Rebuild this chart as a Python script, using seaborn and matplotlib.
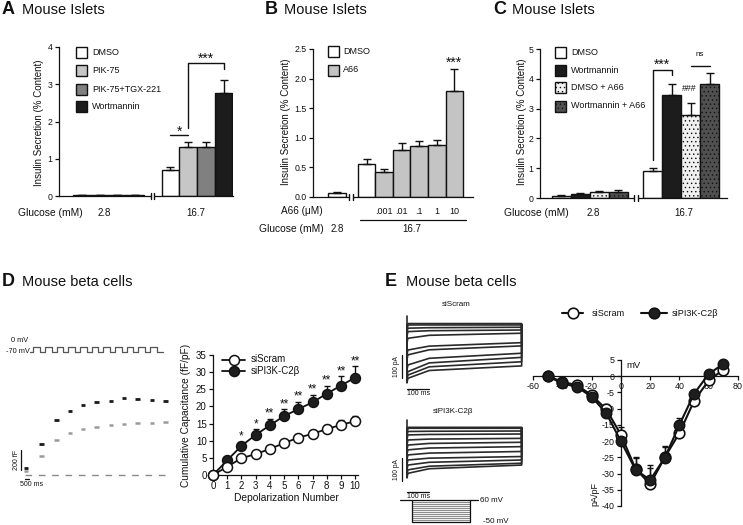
import numpy as np
import pandas as pd
import matplotlib
matplotlib.use("Agg")
import matplotlib.pyplot as plt
from matplotlib.patches import Rectangle
from matplotlib.lines import Line2D
import seaborn as sns

# ===================== data =====================
glucose_mM = ["2.8", "16.7"]

# A
a_conditions = ["DMSO", "PIK-75", "PIK-75+TGX-221", "Wortmannin"]
a_low_mean = [0.02, 0.02, 0.02, 0.03]
a_low_sem = [0.005, 0.005, 0.005, 0.008]
a_high_mean = [0.70, 1.31, 1.31, 2.77]
a_high_sem = [0.09, 0.15, 0.15, 0.34]

# B
b_conditions = ["DMSO", "A66"]
b_doses = [".001", ".01", ".1", "1", "10"]
b_dmso_mean = [0.06, 0.55]          # 2.8 mM, 16.7 mM
b_dmso_sem = [0.02, 0.10]
b_a66_mean = [0.42, 0.80, 0.86, 0.88, 1.79]
b_a66_sem = [0.05, 0.11, 0.08, 0.08, 0.37]

# C
c_conditions = ["DMSO", "Wortmannin", "DMSO + A66", "Wortmannin + A66"]
c_low_mean = [0.07, 0.14, 0.19, 0.20]
c_low_sem = [0.02, 0.02, 0.05, 0.06]
c_high_mean = [0.89, 3.47, 2.77, 3.81]
c_high_sem = [0.13, 0.37, 0.43, 0.40]

# D  capacitance
depol_number = [0, 1, 2, 3, 4, 5, 6, 7, 8, 9, 10]
scram_cap = [0, 2.4, 4.9, 6.1, 7.6, 9.3, 10.9, 12.0, 13.4, 14.6, 15.7]
scram_err = [0, 0.5, 0.6, 0.7, 0.8, 1.0, 1.1, 1.2, 1.3, 1.4, 1.5]
pi_cap = [0, 4.3, 8.5, 11.7, 14.5, 17.2, 19.2, 21.2, 23.7, 26.1, 28.4]
pi_err = [0, 0.8, 1.2, 1.6, 1.9, 2.0, 2.1, 2.2, 2.4, 2.7, 3.3]
pi_sig = ["", "", "*", "*", "**", "**", "**", "**", "**", "**", "**"]
groups = ["siScram", "siPI3K-C2\u03b2"]

# D  example capacitance trace (ms, fF)
cap_trace_t = [1400, 3300, 5200, 6900, 8500, 10200, 12000, 13600, 15300, 17100, 18800]
cap_trace_pi = [70, 310, 550, 640, 700, 730, 745, 770, 760, 750, 740]
cap_trace_scram = [40, 195, 350, 425, 460, 480, 500, 510, 520, 520, 530]
pulse_onsets_ms = [2290, 3750, 5210, 6670, 8125, 9590, 11040, 12500, 13960, 15420, 16875]
pulse_width_ms = 830

# E  example current traces (pA at 4, 100, 516 ms)
trace_t = [4, 100, 516]
scram_i_start = [6, 0, -14, -29, -58, -109, -130, -174, -203, -218, -232]
scram_i_mid = [6, 0, -12, -25, -45, -92, -108, -145, -165, -182, -198]
scram_i_end = [6, 0, -10, -22, -36, -77, -91, -123, -141, -160, -178]
pi_i_start = [4, 0, -14, -29, -51, -73, -94, -116, -138, -160, -181, -196]
pi_i_mid = [4, 0, -13, -27, -47, -66, -86, -108, -130, -148, -165, -176]
pi_i_end = [4, 0, -12, -25, -44, -61, -80, -101, -123, -138, -152, -160]
step_levels_mV = [-50, -40, -30, -20, -10, 0, 10, 20, 30, 40, 50, 60]

# E  I-V
iv_mV = [-50, -40, -30, -20, -10, 0, 10, 20, 30, 40, 50, 60, 70]
iv_scram = [0, -1.7, -2.8, -5.8, -10.2, -18.0, -28.5, -33.3, -25.0, -17.5, -7.6, -1.3, 2.0]
iv_scram_err = [0, 1.0, 0.9, 0.8, 1.6, 2.5, 3.5, 5.0, 3.6, 2.5, 1.0, 0.5, 0.5]
iv_pi = [0, -2.2, -3.3, -6.3, -11.4, -20.0, -28.8, -32.0, -25.1, -15.0, -5.4, 0.7, 3.8]
iv_pi_err = [0, 1.2, 1.0, 0.8, 1.0, 1.5, 3.6, 4.5, 3.4, 2.2, 1.0, 0.5, 0.5]

# ===================== style =====================
INK = "#111111"
sns.set_theme(style="ticks")
plt.rcParams.update({
    "font.family": ["Liberation Sans", "DejaVu Sans"],
    "axes.unicode_minus": False,
    "axes.linewidth": 0.9,
    "axes.edgecolor": INK,
    "xtick.color": INK, "ytick.color": INK,
    "text.color": INK, "axes.labelcolor": INK,
    "hatch.linewidth": 0.5,
    "hatch.color": INK,
})

W, H = 743, 525
fig = plt.figure(figsize=(W / 100, H / 100), dpi=100)
fig.patch.set_facecolor("white")


def rect(l, t, r, b):
    return [l / W, 1 - b / H, (r - l) / W, (b - t) / H]


def ft(x, y, s, size=7, ha="left", va="center", **kw):
    return fig.text(x / W, 1 - y / H, s, fontsize=size, ha=ha, va=va, **kw)


def fline(xs, ys, **kw):
    fig.add_artist(Line2D([x / W for x in xs], [1 - y / H for y in ys], **kw))


def fig_box(xc, yc, face, hatch=None, size=11):
    r = Rectangle(((xc - size / 2) / W, 1 - (yc + size / 2) / H), size / W, size / H,
                  transform=fig.transFigure, facecolor=face, edgecolor=INK, lw=1.0,
                  hatch=hatch)
    fig.add_artist(r)


def bar_panel(box, positions, means, sems, colors, hatches, xlim, ylim, yticks, yfmt):
    ax = fig.add_axes(rect(*box))
    df = pd.DataFrame({"pos": positions, "mean": means})
    sns.barplot(data=df, x="pos", y="mean", native_scale=True, width=1.0, color="white",
                edgecolor=INK, linewidth=1.0, errorbar=None, ax=ax, zorder=2)
    for p, c, h in zip(ax.patches, colors, hatches):
        p.set_facecolor(c)
        if h:
            p.set_hatch(h)
    ax.errorbar(positions, means, yerr=[np.zeros(len(means)), sems], fmt="none",
                ecolor=INK, elinewidth=1.0, capsize=2.8, capthick=1.0, zorder=3)
    ax.set_xlim(*xlim)
    ax.set_ylim(*ylim)
    ax.set_xticks([])
    ax.set_yticks(yticks)
    ax.set_yticklabels([yfmt.format(v) for v in yticks])
    ax.set_xlabel("")
    ax.set_ylabel("")
    sns.despine(ax=ax)
    ax.tick_params(axis="y", labelsize=6.3, length=3, width=0.9, pad=1.5, direction="out")
    ax.patch.set_alpha(0)
    return ax


def axis_break(ax, xc, px_per_unit):
    d = 1.7 / px_per_unit
    tr = ax.get_xaxis_transform()
    ax.plot([xc - d, xc + d], [0, 0], color="white", lw=2.5, transform=tr, clip_on=False,
            zorder=5, solid_capstyle="butt")
    for s in (-d, d):
        ax.plot([xc + s, xc + s], [-0.022, 0.022], color=INK, lw=1.0, transform=tr,
                clip_on=False, zorder=6)


def bracket(ax, pts):
    xs, ys = zip(*pts)
    ax.plot(xs, ys, color=INK, lw=1.0, clip_on=False, zorder=4)


def stars(ax, x, y, s, size=10):
    ax.annotate(s, (x, y), xytext=(0, -0.58 * size), textcoords="offset points",
                ha="center", va="baseline", fontsize=size, annotation_clip=False)


def title(xl, xt, y, letter, text):
    ft(xl, y, letter, size=13, weight="bold")
    ft(xt, y + 0.5, text, size=10.5)


# ===================== A =====================
a_colors = ["white", "#c6c6c6", "#808080", "#1c1c1c"]
posA = np.r_[np.arange(4), np.arange(4) + 5]
axA = bar_panel((59, 47, 233, 196), posA, a_low_mean + a_high_mean, a_low_sem + a_high_sem,
                a_colors * 2, [None] * 8, (-1.29, 8.53), (0, 4), [0, 1, 2, 3, 4], "{:g}")
axis_break(axA, 4.0, 17.72)
bracket(axA, [(5, 1.63), (6, 1.63)])
stars(axA, 5.5, 1.84, "*")
bracket(axA, [(6, 1.82), (6, 3.56), (8, 3.56), (8, 3.40)])
stars(axA, 7, 3.80, "***")
for yy, lab, c in zip([52.3, 70.7, 89.3, 106.7], a_conditions, a_colors):
    fig_box(81.5, yy, c)
    ft(92, yy, lab, size=6.5)
title(2, 22, 10, "A", "Mouse Islets")
ft(39, 123, "Insulin Secretion (% Content)", size=7, ha="center", rotation=90)
ft(18, 213, "Glucose (mM)", size=7.4)
ft(104, 213, glucose_mM[0], size=7, ha="center")
ft(196, 213, glucose_mM[1], size=7, ha="center")

# ===================== B =====================
b_gray = "#c4c4c4"
posB = np.r_[0, 1.71 + np.arange(6)]
meansB = [b_dmso_mean[0], b_dmso_mean[1]] + b_a66_mean
semsB = [b_dmso_sem[0], b_dmso_sem[1]] + b_a66_sem
colorsB = ["white", "white"] + [b_gray] * len(b_a66_mean)
axB = bar_panel((313, 49, 473, 197), posB, meansB, semsB, colorsB, [None] * 7,
                (-1.357, 7.78), (0, 2.5), [0, 0.5, 1.0, 1.5, 2.0, 2.5], "{:.1f}")
axis_break(axB, 0.814, 17.5)
stars(axB, posB[-1], 2.34, "***")
for yy, lab, c in zip([51.7, 70], b_conditions, ["white", b_gray]):
    fig_box(333, yy, c)
    ft(343, yy, lab, size=6.5)
title(265, 284, 10, "B", "Mouse Islets")
ft(286, 122, "Insulin Secretion (% Content)", size=7, ha="center", rotation=90)
ft(281, 211, "A66 (\u03bcM)", size=7.2)
for p, d in zip(posB[2:], b_doses):
    ft(313 + (p + 1.357) * 17.5, 211, d, size=6.5, ha="center")
fline([360, 466], [220, 220], color=INK, lw=0.9)
ft(259, 228.5, "Glucose (mM)", size=7.4)
ft(337, 228.5, glucose_mM[0], size=7, ha="center")
ft(412, 228.5, glucose_mM[1], size=7, ha="center")

# ===================== C =====================
c_colors = ["white", "#1c1c1c", "#f0f0f0", "#505050"]
c_hatch = [None, None, "....", "...."]
posC = np.r_[np.arange(4), np.arange(4) + 4.8]
axC = bar_panel((540, 49, 727, 198), posC, c_low_mean + c_high_mean, c_low_sem + c_high_sem,
                c_colors * 2, c_hatch * 2, (-1.13, 8.72), (0, 5), [0, 1, 2, 3, 4, 5], "{:g}")
axis_break(axC, 3.92, 19.0)
bracket(axC, [(4.8, 1.26), (4.8, 4.31), (5.8, 4.31), (5.8, 4.12)])
stars(axC, 5.3, 4.62, "***")
bracket(axC, [(6.8, 4.43), (7.8, 4.43)])
axC.text(7.3, 4.80, "ns", ha="center", va="center", fontsize=5.8)
axC.text(6.75, 3.69, "###", ha="center", va="center", fontsize=6.3)
for yy, lab, c, h in zip([52.3, 70.7, 87.7, 106], c_conditions, c_colors, c_hatch):
    fig_box(560.5, yy, c, h)
    ft(571, yy, lab, size=6.5)
title(493, 512, 10, "C", "Mouse Islets")
ft(522, 122, "Insulin Secretion (% Content)", size=7, ha="center", rotation=90)
ft(504, 213, "Glucose (mM)", size=7.4)
ft(593, 213, glucose_mM[0], size=7, ha="center")
ft(684, 213, glucose_mM[1], size=7, ha="center")

# ===================== D traces =====================
title(2, 22, 281.7, "D", "Mouse beta cells")
axV = fig.add_axes(rect(10, 340, 180, 358))
axV.axis("off")
axV.set_xlim(-625, 20625)
axV.set_ylim(-158, 94)
vt, vv = [1875], [-70]
for on in pulse_onsets_ms:
    vt += [on, on, on + pulse_width_ms, on + pulse_width_ms]
    vv += [-70, 0, 0, -70]
vt.append(18500)
vv.append(-70)
axV.plot(vt, vv, color="#555555", lw=0.9)
ft(28, 341, "0 mV", size=5.3, ha="right")
ft(30, 351.5, "-70 mV", size=5.3, ha="right")

axDt = fig.add_axes(rect(10, 380, 180, 495))
axDt.axis("off")
axDt.set_xlim(-625, 20625)
axDt.set_ylim(-200, 950)
axDt.plot([1250, 19000], [0, 0], color="#8a8a8a", lw=1.0, dashes=(4.8, 4.8))
for t, v in zip(cap_trace_t, cap_trace_scram):
    axDt.plot([t - 280, t + 280], [v, v], color="#9a9a9a", lw=1.8, solid_capstyle="butt")
for t, v in zip(cap_trace_t, cap_trace_pi):
    axDt.plot([t - 280, t + 280], [v, v], color="#1a1a1a", lw=2.0, solid_capstyle="butt")
axDt.plot([750, 750], [50, 250], color=INK, lw=0.9)
axDt.text(250, 150, "200 fF", rotation=90, ha="center", va="center", fontsize=5)
axDt.plot([1250, 1750], [-40, -40], color=INK, lw=0.9)
axDt.text(2125, -100, "500 ms", ha="center", va="center", fontsize=5)

# ===================== D plot =====================
axD = fig.add_axes(rect(213, 355, 358, 475))
axD.errorbar(depol_number, pi_cap, yerr=[np.zeros(11), pi_err], fmt="none", ecolor=INK,
             elinewidth=1.0, capsize=2.5, capthick=1.0, zorder=2, clip_on=False)
axD.errorbar(depol_number, scram_cap, yerr=[np.zeros(11), scram_err], fmt="none", ecolor=INK,
             elinewidth=1.0, capsize=2.5, capthick=1.0, zorder=2, clip_on=False)
sns.lineplot(x=depol_number, y=pi_cap, color=INK, lw=1.3, marker="o", markersize=7.2,
             markerfacecolor="#1e1e1e", markeredgecolor=INK, markeredgewidth=1.0,
             errorbar=None, ax=axD, clip_on=False, zorder=3)
sns.lineplot(x=depol_number, y=scram_cap, color=INK, lw=1.3, marker="o", markersize=7.2,
             markerfacecolor="white", markeredgecolor=INK, markeredgewidth=1.1,
             errorbar=None, ax=axD, clip_on=False, zorder=4)
for i, s in enumerate(pi_sig):
    if s:
        stars(axD, depol_number[i], pi_cap[i] + pi_err[i] + 2.6, s, size=8.5)
axD.set_xlim(0, 10.2)
axD.set_ylim(0, 35)
axD.set_xticks(depol_number)
axD.set_yticks([0, 5, 10, 15, 20, 25, 30, 35])
axD.set_xlabel("")
axD.set_ylabel("")
sns.despine(ax=axD)
axD.tick_params(labelsize=7, length=3, width=0.9, pad=1.5)
axD.patch.set_alpha(0)
ft(286, 498, "Depolarization Number", size=7.4, ha="center")
ft(186, 415, "Cumulative Capacitance (fF/pF)", size=7.3, ha="center", rotation=90)
for yy, lab, fc in [(359.5, groups[0], "white"), (371, groups[1], "#1e1e1e")]:
    fline([222, 245], [yy, yy], color=INK, lw=1.3)
    fline([233.5], [yy], marker="o", markersize=7.2, markerfacecolor=fc, markeredgecolor=INK,
          markeredgewidth=1.1, lw=0)
    ft(251, yy, lab, size=7)

# ===================== E traces =====================
title(385, 406, 281.7, "E", "Mouse beta cells")


def trace_axes(top, label, starts, mids, ends, label_xy):
    ax = fig.add_axes(rect(395, top, 530, top + 85))
    ax.axis("off")
    ax.set_xlim(-54, 553.5)
    ax.set_ylim(-304.5, 65)
    for s, m, e in zip(starts, mids, ends):
        ax.plot([0, 0] + trace_t + [trace_t[-1]], [0, s - 20, s, m, e, 0], color="#2a2a2a", lw=1.2)
    ax.plot([0, 0], [0, 38], color="#2a2a2a", lw=1.2)
    ax.plot([-22.5, -22.5], [-130, -230], color=INK, lw=0.9)
    ax.text(-45, -180, "100 pA", rotation=90, ha="center", va="center", fontsize=4.8)
    ax.plot([0, 100], [-278, -278], color=INK, lw=0.9)
    ax.text(50, -283, "100 ms", ha="center", va="top", fontsize=5)
    ft(label_xy[0], label_xy[1], label, size=5.8, ha="center")
    return ax


trace_axes(310, groups[0], scram_i_start, scram_i_mid, scram_i_end, (456, 305))
trace_axes(413.3, groups[1], pi_i_start, pi_i_mid, pi_i_end, (453, 411.5))

axS = fig.add_axes(rect(398, 496, 480, 524))
axS.axis("off")
axS.set_xlim(-122, 609)
axS.set_ylim(-61.7, 80.3)
for lv in step_levels_mV[1:-1]:
    axS.plot([0, 520], [lv, lv], color="#8c8c8c", lw=0.8)
axS.plot([-104, 591], [step_levels_mV[-1]] * 2, color=INK, lw=0.9)
axS.plot([0, 520], [step_levels_mV[0]] * 2, color=INK, lw=0.9)
axS.plot([0, 0], [step_levels_mV[0], step_levels_mV[-1]], color=INK, lw=0.9)
axS.plot([520, 520], [step_levels_mV[0], step_levels_mV[-1]], color=INK, lw=0.9)
ft(480, 500, "60 mV", size=5.8)
ft(483, 521.5, "-50 mV", size=5.8)

# ===================== E I-V =====================
axE = fig.add_axes(rect(533, 360, 738, 506))
axE.errorbar(iv_mV, iv_scram, yerr=[np.zeros(13), iv_scram_err], fmt="none", ecolor=INK,
             elinewidth=1.0, capsize=2.2, capthick=1.0, zorder=2, clip_on=False)
axE.errorbar(iv_mV, iv_pi, yerr=[np.zeros(13), iv_pi_err], fmt="none", ecolor=INK,
             elinewidth=1.0, capsize=2.2, capthick=1.0, zorder=2, clip_on=False)
sns.lineplot(x=iv_mV, y=iv_scram, color=INK, lw=1.5, marker="o", markersize=7.6,
             markerfacecolor="white", markeredgecolor=INK, markeredgewidth=1.2,
             errorbar=None, ax=axE, clip_on=False, zorder=3)
sns.lineplot(x=iv_mV, y=iv_pi, color=INK, lw=1.5, marker="o", markersize=7.6,
             markerfacecolor="#1e1e1e", markeredgecolor=INK, markeredgewidth=1.0,
             errorbar=None, ax=axE, clip_on=False, zorder=4)
axE.set_xlim(-60, 80)
axE.set_ylim(-40, 5)
axE.spines["left"].set_position(("data", 0))
axE.spines["bottom"].set_position(("data", 0))
axE.spines["top"].set_visible(False)
axE.spines["right"].set_visible(False)
axE.set_xticks([-60, -40, -20, 0, 20, 40, 60, 80])
axE.set_yticks([-40, -35, -30, -25, -20, -15, -10, -5, 0, 5])
axE.set_xlabel("")
axE.set_ylabel("")
axE.tick_params(labelsize=6.4, length=3, width=0.9, pad=1.5)
axE.patch.set_alpha(0)
ft(634, 366, "mV", size=6.8, ha="center")
ft(595, 494, "pA/pF", size=6.5, ha="center", rotation=90)
for xl, xr, xm, xt, lab, fc in [(562, 583, 572.5, 592, groups[0], "white"),
                                (641, 667, 653.5, 672, groups[1], "#1e1e1e")]:
    fline([xl, xr], [313.3, 313.3], color=INK, lw=1.5)
    fline([xm], [313.3], marker="o", markersize=7.6, markerfacecolor=fc, markeredgecolor=INK,
          markeredgewidth=1.2, lw=0)
    ft(xt, 313.3, lab, size=6.6)

fig.savefig("out.png", dpi=100, facecolor="white")
